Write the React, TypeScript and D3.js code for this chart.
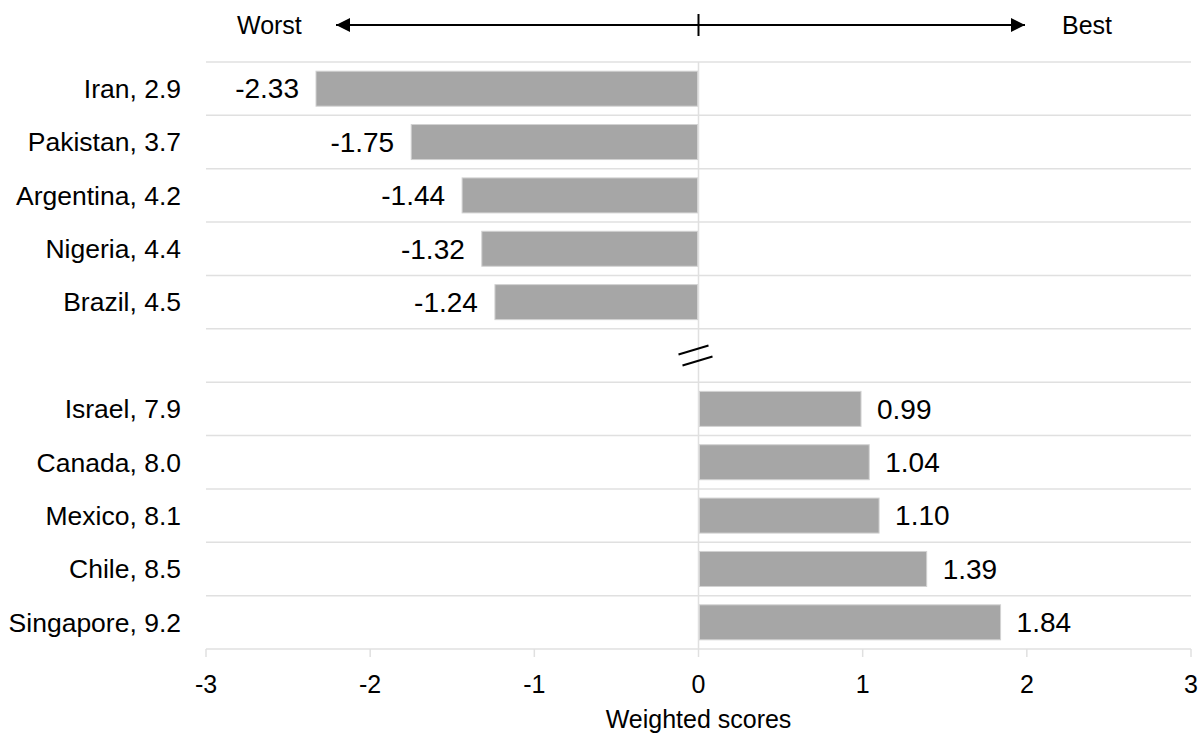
import React from "react";
import * as d3 from "d3";

// Country names and their overall scores
const countries = ["Iran", "Pakistan", "Argentina", "Nigeria", "Brazil", "Israel", "Canada", "Mexico", "Chile", "Singapore"];
const scores = ["2.9", "3.7", "4.2", "4.4", "4.5", "7.9", "8.0", "8.1", "8.5", "9.2"];
// Weighted score per country
const weighted = [-2.33, -1.75, -1.44, -1.32, -1.24, 0.99, 1.04, 1.1, 1.39, 1.84];
const xTicks = [-3, -2, -1, 0, 1, 2, 3];
const BREAK = "__break__";
const rowOrder = [...countries.slice(0, 5), BREAK, ...countries.slice(5)];

const W = 1202;
const H = 734;
const FONT = "'Liberation Sans', Arial, sans-serif";

export default function App() {
  const x = d3.scaleLinear().domain([-3, 3]).range([206, 1191]);
  const y = d3.scaleBand<string>().domain(rowOrder).range([62, 649]).padding(0);
  const step = y.step();
  const barH = 35;
  const x0 = x(0);
  const grid = "#e0e0e0";

  const rowLines = rowOrder.map((r) => y(r)!);

  return (
    <svg
      width={W}
      height={H}
      style={{ position: "absolute", left: 0, top: 0, background: "#fff" }}
      fontFamily={FONT}
    >
      <defs>
        <marker id="arrowHead" viewBox="0 0 10 10" refX="10" refY="5" markerWidth="8" markerHeight="7" markerUnits="strokeWidth" orient="auto-start-reverse">
          <path d="M0,0 L10,5 L0,10 z" fill="#000" />
        </marker>
      </defs>

      {/* row separators */}
      {rowLines.map((yy, i) => (
        <line key={"g" + i} x1={x(-3)} x2={x(3)} y1={yy} y2={yy} stroke={grid} strokeWidth={1.5} />
      ))}

      {/* zero line */}
      <line x1={x0} x2={x0} y1={62} y2={649} stroke={grid} strokeWidth={1.5} />

      {/* bars */}
      {countries.map((c, i) => {
        const v = weighted[i];
        const top = y(c)! + (step - barH) / 2;
        const bx = v < 0 ? x(v) : x0 + 1;
        const bw = v < 0 ? x0 - 1 - x(v) : x(v) - x0 - 1;
        return (
          <rect key={"b" + c} x={bx} y={top} width={bw} height={barH} fill="#a6a6a6" stroke="#d2d2d2" strokeWidth={1} />
        );
      })}

      {/* value labels */}
      {countries.map((c, i) => {
        const v = weighted[i];
        const cy = y(c)! + step / 2;
        return (
          <text
            key={"v" + c}
            x={v < 0 ? x(v) - 17 : x(v) + 16}
            y={cy}
            dy="0.35em"
            textAnchor={v < 0 ? "end" : "start"}
            fontSize={28}
            fill="#000"
          >
            {v.toFixed(2)}
          </text>
        );
      })}

      {/* category labels */}
      {countries.map((c, i) => (
        <text
          key={"c" + c}
          x={181}
          y={y(c)! + step / 2}
          dy="0.35em"
          textAnchor="end"
          fontSize={26.5}
          fill="#000"
        >
          {`${c}, ${scores[i]}`}
        </text>
      ))}

      {/* axis break mark */}
      {(() => {
        const cy = y(BREAK)! + step / 2;
        return (
          <g stroke="#000" strokeWidth={2}>
            <line x1={x0 - 20} y1={cy - 1} x2={x0 + 10} y2={cy - 10} />
            <line x1={x0 - 16} y1={cy + 10} x2={x0 + 14} y2={cy + 1} />
          </g>
        );
      })()}

      {/* bottom axis */}
      <line x1={x(-3)} x2={x(3)} y1={649} y2={649} stroke={grid} strokeWidth={1.5} />
      {xTicks.map((t) => (
        <g key={"t" + t}>
          <line x1={x(t)} x2={x(t)} y1={649} y2={657} stroke={grid} strokeWidth={1.5} />
          <text x={x(t)} y={684} dy="0.35em" textAnchor="middle" fontSize={25} fill="#000">
            {t}
          </text>
        </g>
      ))}
      <text x={x0} y={719} dy="0.35em" textAnchor="middle" fontSize={25} fill="#000">
        Weighted scores
      </text>

      {/* direction arrow */}
      <line x1={336} x2={1025} y1={25} y2={25} stroke="#000" strokeWidth={2} markerStart="url(#arrowHead)" markerEnd="url(#arrowHead)" />
      <line x1={x0} x2={x0} y1={14} y2={36} stroke="#000" strokeWidth={2} />
      <text x={237} y={25} dy="0.35em" textAnchor="start" fontSize={25} fill="#000">
        Worst
      </text>
      <text x={1062} y={25} dy="0.35em" textAnchor="start" fontSize={25} fill="#000">
        Best
      </text>
    </svg>
  );
}
